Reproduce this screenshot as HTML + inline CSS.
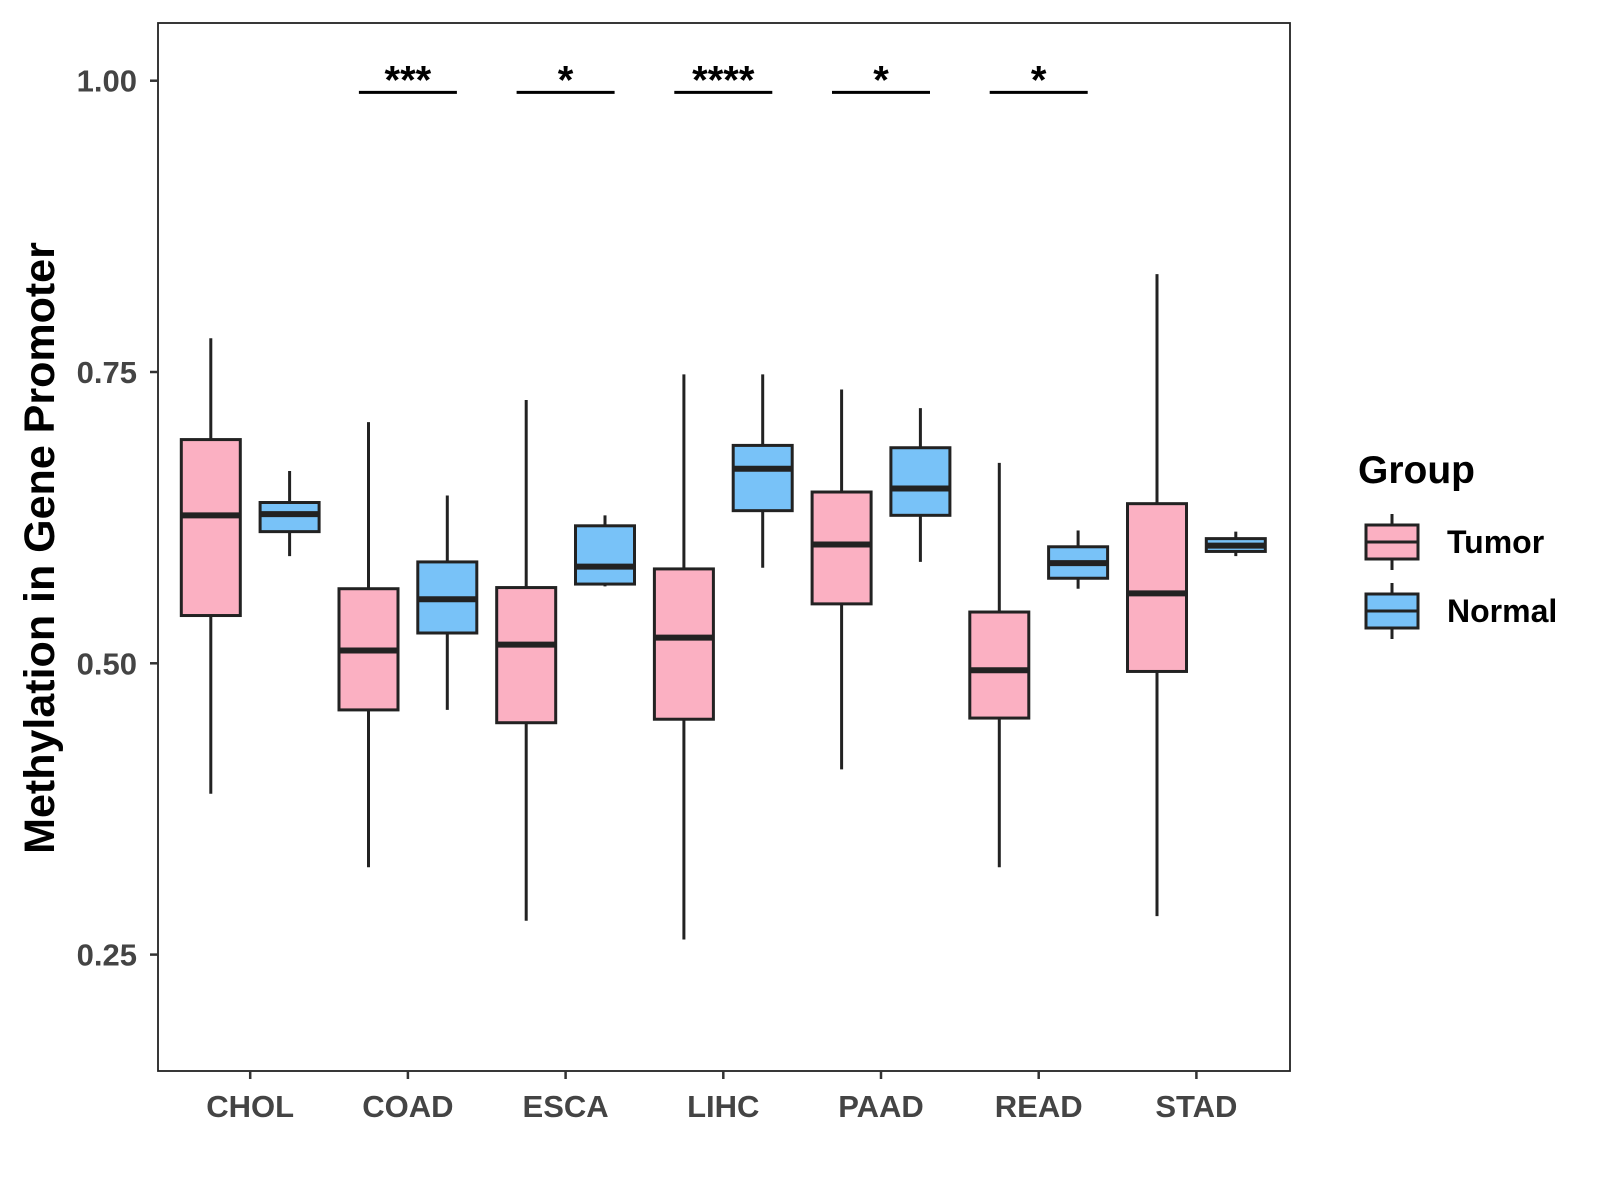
<!DOCTYPE html>
<html><head><meta charset="utf-8"><style>body{margin:0;background:#fff}svg{display:block}text{font-family:"Liberation Sans",Arial,sans-serif;font-weight:bold}</style></head>
<body>
<svg id="c" width="1600" height="1200" xmlns="http://www.w3.org/2000/svg"></svg>
<script>
const categories=["CHOL","COAD","ESCA","LIHC","PAAD","READ","STAD"];
// [lower whisker, Q1, median, Q3, upper whisker]
const tumor=[[0.388,0.541,0.627,0.692,0.779],[0.325,0.460,0.511,0.564,0.707],[0.279,0.449,0.516,0.565,0.726],[0.263,0.452,0.522,0.581,0.748],[0.409,0.551,0.602,0.647,0.735],[0.325,0.453,0.494,0.544,0.672],[0.283,0.493,0.560,0.637,0.834]];
const normal=[[0.592,0.613,0.628,0.638,0.665],[0.460,0.526,0.555,0.587,0.644],[0.566,0.568,0.583,0.618,0.627],[0.582,0.631,0.667,0.687,0.748],[0.587,0.627,0.650,0.685,0.719],[0.564,0.573,0.586,0.600,0.614],[0.592,0.596,0.601,0.607,0.613]];
const sigCats=["COAD","ESCA","LIHC","PAAD","READ"];
const sigLabels=["***","*","****","*","*"];
const yTicks=[0.25,0.50,0.75,1.00];
const yTickLabels=["0.25","0.50","0.75","1.00"];
const NS="http://www.w3.org/2000/svg",svg=document.getElementById('c');
const L=158,R=1290,T=23,B=1071;
const y=v=>80.7+(1-v)*1165.2;
const xc=i=>250.2+i*157.7;
function el(t,a,p){const e=document.createElementNS(NS,t);for(const k in a)e.setAttribute(k,a[k]);(p||svg).appendChild(e);return e;}
const frame=el('rect',{x:L,y:T,width:R-L,height:B-T,fill:'none',stroke:'#222','stroke-width':1.8});


yTicks.forEach((v,i)=>{
  const tk=el('line',{x1:L-8,x2:L,y1:y(v),y2:y(v),stroke:'#333','stroke-width':2.5});
  
  
  const t=el('text',{x:137,y:y(v)+11,'text-anchor':'end','font-size':31,fill:'#444'});t.textContent=yTickLabels[i];
  
  
});
categories.forEach((c,i)=>{
  const tk=el('line',{x1:xc(i),x2:xc(i),y1:B,y2:B+8,stroke:'#333','stroke-width':2.5});
  
  
  const t=el('text',{x:xc(i),y:1117,'text-anchor':'middle','font-size':31,fill:'#444'});t.textContent=c;
  
  
});
function box(cx,d,fill,name){
  const g=el('g',{});
  
  
  const w=59;
  el('line',{x1:cx,x2:cx,y1:y(d[4]),y2:y(d[0]),stroke:'#222','stroke-width':3},g);
  el('rect',{x:cx-w/2,y:y(d[3]),width:w,height:y(d[1])-y(d[3]),fill:fill,stroke:'#222','stroke-width':3},g);
  el('line',{x1:cx-w/2,x2:cx+w/2,y1:y(d[2]),y2:y(d[2]),stroke:'#222','stroke-width':6},g);
}
categories.forEach((c,i)=>{
  box(xc(i)-39.4,tumor[i],'#fbb0c2','tumor-box-'+c.toLowerCase());
  box(xc(i)+39.4,normal[i],'#78c2f8','normal-box-'+c.toLowerCase());
});
sigCats.forEach((c,k)=>{
  const i=categories.indexOf(c);
  const ln=el('line',{x1:xc(i)-49,x2:xc(i)+49,y1:y(0.99),y2:y(0.99),stroke:'#000','stroke-width':3});
  
  
  const t=el('text',{x:xc(i),y:y(0.99)+1,'text-anchor':'middle','font-size':40,fill:'#000'});t.textContent=sigLabels[k];
  
  
});
const yt=el('text',{x:0,y:0,transform:'translate(54,548) rotate(-90)','text-anchor':'middle','font-size':43,fill:'#000'});yt.textContent='Methylation in Gene Promoter';


const lt=el('text',{x:1358,y:483,'font-size':39,fill:'#000'});lt.textContent='Group';


[['Tumor','#fbb0c2',542],['Normal','#78c2f8',611]].forEach(([n,f,cy])=>{
  const g=el('g',{});
  
  
  el('line',{x1:1392,x2:1392,y1:cy-28,y2:cy+28,stroke:'#222','stroke-width':3},g);
  el('rect',{x:1366,y:cy-17,width:52,height:34,fill:f,stroke:'#222','stroke-width':3},g);
  el('line',{x1:1366,x2:1418,y1:cy,y2:cy,stroke:'#222','stroke-width':3},g);
  const t=el('text',{x:1447,y:cy+11,'font-size':32,fill:'#000'},g);t.textContent=n;
});
</script>
</body></html>
